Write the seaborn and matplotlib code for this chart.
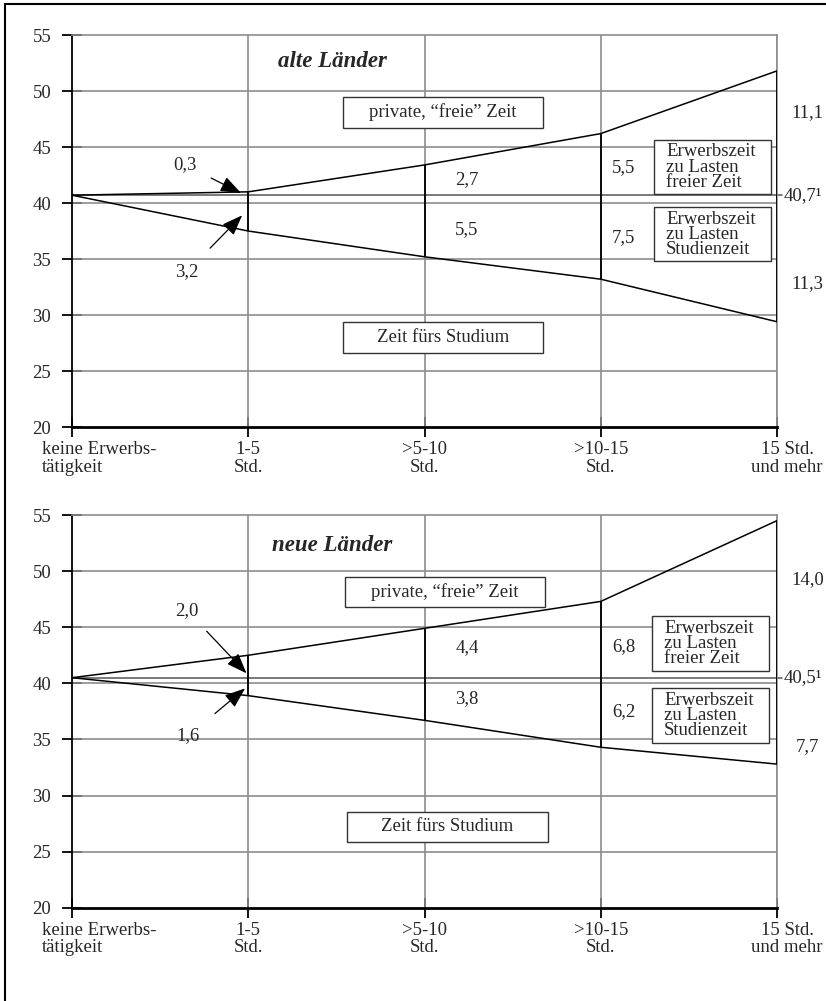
import pandas as pd
import matplotlib.pyplot as plt
import matplotlib.transforms as mtransforms
import seaborn as sns
from matplotlib.patches import Rectangle
from matplotlib.lines import Line2D

# Kategorien (Erwerbstätigkeit pro Woche)
kategorien = ["keine Erwerbs-\ntätigkeit", "1-5\nStd.", ">5-10\nStd.", ">10-15\nStd.", "15 Std.\nund mehr"]

# alte Länder
alte_basis = 40.7
alte_zu_lasten_frei = [0.0, 0.3, 2.7, 5.5, 11.1]
alte_zu_lasten_studium = [0.0, 3.2, 5.5, 7.5, 11.3]

# neue Länder
neue_basis = 40.5
neue_zu_lasten_frei = [0.0, 2.0, 4.4, 6.8, 14.0]
neue_zu_lasten_studium = [0.0, 1.6, 3.8, 6.2, 7.7]

y_ticks = [20, 25, 30, 35, 40, 45, 50, 55]

sns.set_theme(style="white")
plt.rcParams["font.family"] = ["Liberation Serif", "DejaVu Serif"]
plt.rcParams["font.size"] = 13.5

GRID = "#8c8c8c"
FS = 13.5
PFEIL = "-|>,head_length=0.9,head_width=0.34"


def fmt(v):
    return f"{v:.1f}".replace(".", ",")


def make_df(basis, frei, studium):
    rows = []
    for i, (f, s) in enumerate(zip(frei, studium)):
        rows.append({"x": i, "y": basis + f, "linie": "oben"})
        rows.append({"x": i, "y": basis - s, "linie": "unten"})
    return pd.DataFrame(rows)


def box(ax, x0, x1, y0, y1):
    ax.add_patch(Rectangle((x0, y0), x1 - x0, y1 - y0, facecolor="white",
                           edgecolor="#333333", lw=1.0, zorder=5))


def draw_panel(ax, titel, basis, frei, studium, lay):
    df = make_df(basis, frei, studium)
    oben = df[df["linie"] == "oben"]["y"].values
    unten = df[df["linie"] == "unten"]["y"].values

    sns.lineplot(data=df, x="x", y="y", hue="linie", palette=["black", "black"],
                 lw=1.1, legend=False, ax=ax, zorder=4)

    ax.set_xlim(0, 4)
    ax.set_ylim(20, 55)
    ax.set_yticks(y_ticks)
    ax.set_xticks(range(len(kategorien)))
    ax.set_xticklabels(kategorien, linespacing=1.05)
    ax.set_xlabel("")
    ax.set_ylabel("")

    # Gitter
    for y in y_ticks[1:-1]:
        ax.axhline(y, color=GRID, lw=1.2, zorder=1)
    for i in range(1, len(kategorien)):
        ax.axvline(i, color=GRID, lw=1.2, zorder=1)

    for side in ["top", "right"]:
        ax.spines[side].set_color(GRID)
        ax.spines[side].set_linewidth(1.2)
    ax.spines["left"].set_color("black")
    ax.spines["left"].set_linewidth(1.3)
    ax.spines["bottom"].set_color("black")
    ax.spines["bottom"].set_linewidth(2.0)
    ax.tick_params(axis="both", direction="inout", length=14, width=1.3,
                   color="black", labelsize=FS, left=True, bottom=True)
    ax.tick_params(axis="y", pad=8)
    ax.tick_params(axis="x", length=14, pad=3)

    # erste und letzte Kategorie etwas verschoben wie im Original
    lbls = ax.get_xticklabels()
    lbls[0].set_horizontalalignment("left")
    lbls[0].set_multialignment("left")
    lbls[0].set_transform(lbls[0].get_transform() +
                          mtransforms.ScaledTranslation(-0.30, 0, ax.figure.dpi_scale_trans))
    lbls[-1].set_transform(lbls[-1].get_transform() +
                           mtransforms.ScaledTranslation(0.10, 0, ax.figure.dpi_scale_trans))

    # Basislinie
    ax.plot([0, 4.03], [basis, basis], color="#555555", lw=1.1, zorder=2, clip_on=False)

    # schwarze Segmente zwischen den Linien
    ax.vlines(range(1, len(kategorien)), unten[1:], oben[1:], color="black", lw=1.3, zorder=3)

    ax.text(lay["titel"][0], lay["titel"][1], titel, fontsize=16.5, fontweight="bold",
            fontstyle="italic", ha="center", va="center")

    # Kästen
    bx = lay["boxen"]
    box(ax, *bx["privat"])
    ax.text(sum(bx["privat"][:2]) / 2, sum(bx["privat"][2:]) / 2, "private, \u201cfreie\u201d Zeit",
            ha="center", va="center", zorder=6, fontsize=FS)
    box(ax, *bx["studium"])
    ax.text(sum(bx["studium"][:2]) / 2, sum(bx["studium"][2:]) / 2, "Zeit fürs Studium",
            ha="center", va="center", zorder=6, fontsize=FS)
    box(ax, *bx["erw_frei"])
    ax.text(bx["erw_frei"][0] + 0.068, sum(bx["erw_frei"][2:]) / 2,
            "Erwerbszeit\nzu Lasten\nfreier Zeit", ha="left", va="center",
            zorder=6, fontsize=FS, linespacing=0.85)
    box(ax, *bx["erw_stud"])
    ax.text(bx["erw_stud"][0] + 0.068, sum(bx["erw_stud"][2:]) / 2,
            "Erwerbszeit\nzu Lasten\nStudienzeit", ha="left", va="center",
            zorder=6, fontsize=FS, linespacing=0.85)

    # Werte an den Kategorien 2 und 3 (Mitte der Segmente)
    for i, dx in [(2, 0.24), (3, 0.13)]:
        ax.text(i + dx, (oben[i] + basis) / 2 + lay["dy"][i][0], fmt(frei[i]),
                ha="center", va="center", fontsize=FS)
        ax.text(i + dx, (unten[i] + basis) / 2 + lay["dy"][i][1], fmt(studium[i]),
                ha="center", va="center", fontsize=FS)

    # Werte rechts
    ax.text(4.175, lay["rechts"][0], fmt(frei[4]), ha="center", va="center", fontsize=FS, clip_on=False)
    ax.text(4.175, lay["rechts"][1], fmt(studium[4]), ha="center", va="center", fontsize=FS, clip_on=False)
    ax.text(4.04, basis, fmt(basis) + "\u00b9", ha="left", va="center", fontsize=FS, clip_on=False)

    # Pfeile bei 1-5 Std.
    a = lay["pfeile"]
    ax.annotate(fmt(frei[1]), xy=a["oben_tip"], xytext=a["oben_text"], ha="center", va="center",
                fontsize=FS,
                arrowprops=dict(arrowstyle=PFEIL, color="black", lw=0.9,
                                mutation_scale=14, shrinkA=9, shrinkB=0))
    ax.annotate(fmt(studium[1]), xy=a["unten_tip"], xytext=a["unten_text"], ha="center", va="center",
                fontsize=FS,
                arrowprops=dict(arrowstyle=PFEIL, color="black", lw=0.9,
                                mutation_scale=14, shrinkA=12, shrinkB=0))


fig = plt.figure(figsize=(8.26, 10.01), dpi=100)
ax1 = fig.add_axes([0.0872, 0.5734, 0.8535, 0.3916])
ax2 = fig.add_axes([0.0872, 0.0932, 0.8535, 0.3923])

layout_alt = {
    "titel": (1.475, 52.6),
    "boxen": {
        "privat": (1.537, 2.672, 46.70, 49.46),
        "studium": (1.537, 2.672, 26.61, 29.38),
        "erw_frei": (3.302, 3.966, 40.80, 45.63),
        "erw_stud": (3.302, 3.966, 34.82, 39.64),
    },
    "dy": {2: (0.0, -0.3), 3: (-0.3, 0.0)},
    "rechts": (48.05, 32.85),
    "pfeile": {
        "oben_tip": (0.959, 40.89), "oben_text": (0.641, 43.4),
        "unten_tip": (0.965, 38.9), "unten_text": (0.652, 33.85),
    },
}

layout_neu = {
    "titel": (1.475, 52.3),
    "boxen": {
        "privat": (1.548, 2.683, 46.79, 49.46),
        "studium": (1.56, 2.70, 25.89, 28.57),
        "erw_frei": (3.291, 3.955, 41.07, 45.98),
        "erw_stud": (3.291, 3.955, 34.64, 39.55),
    },
    "dy": {2: (0.5, 0.0), 3: (-0.6, 0.1)},
    "rechts": (49.2, 34.4),
    "pfeile": {
        "oben_tip": (0.99, 40.89), "oben_text": (0.652, 46.5),
        "unten_tip": (0.982, 39.55), "unten_text": (0.658, 35.3),
    },
}

draw_panel(ax1, "alte Länder", alte_basis, alte_zu_lasten_frei, alte_zu_lasten_studium, layout_alt)
draw_panel(ax2, "neue Länder", neue_basis, neue_zu_lasten_frei, neue_zu_lasten_studium, layout_neu)

# Rahmen oben und links
fig.add_artist(Line2D([0.006, 1.0], [0.996, 0.996], color="black", lw=1.5, transform=fig.transFigure))
fig.add_artist(Line2D([0.006, 0.006], [0.0, 0.996], color="black", lw=1.5, transform=fig.transFigure))

fig.savefig("out.png", dpi=100)
